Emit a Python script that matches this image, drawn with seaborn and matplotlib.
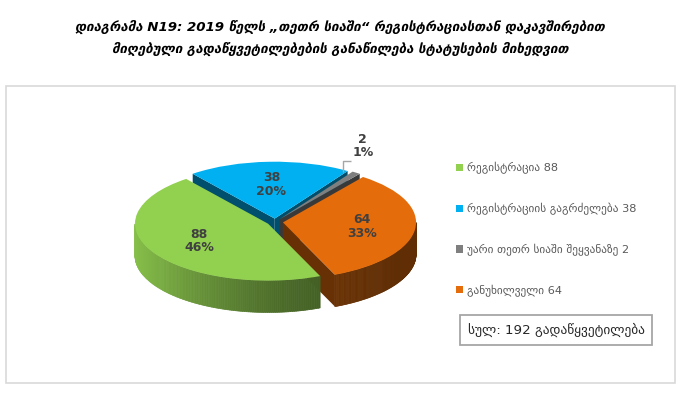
import numpy as np
import matplotlib
matplotlib.use('Agg')
import matplotlib.pyplot as plt
from matplotlib.patches import Polygon, Rectangle
from matplotlib.collections import PolyCollection
from matplotlib.colors import to_rgb
import seaborn as sns

# data
categories = ['რეგისტრაცია', 'რეგისტრაციის გაგრძელება',
              'უარი თეთრ სიაში შეყვანაზე', 'განუხილველი']
counts = [88, 38, 2, 64]
colors = ['#92d050', '#00b0f0', '#7f7f7f', '#e46c0a']
title_lines = ['დიაგრამა N19: 2019 წელს „თეთრ სიაში“ რეგისტრაციასთან დაკავშირებით',
               'მიღებული გადაწყვეტილებების განაწილება სტატუსების მიხედვით']
total_text = 'სულ: {} გადაწყვეტილება'

sns.set_theme(style='white')
plt.rcParams['font.family'] = ['DejaVu Sans']

W, H = 680, 394
fig = plt.figure(figsize=(W / 100, H / 100), dpi=100)
fig.patch.set_facecolor('white')


def px_box(x0, y0, x1, y1):
    # pixel box (origin top-left) -> figure fraction rect
    return [x0 / W, 1 - y1 / H, (x1 - x0) / W, (y1 - y0) / H]


# outer chart frame
fig.patches.append(Rectangle((6 / W, 1 - 383 / H), 669 / W, 297 / H,
                             transform=fig.transFigure, fill=False,
                             ec='#d9d9d9', lw=1.2))

fig.text(0.5, 1 - 38 / H, '\n'.join(title_lines), ha='center', va='center',
         fontsize=9.6, fontweight='bold', fontstyle='italic', linespacing=1.75,
         color='black')

# pie axes: squashed vertically to fake the 3D tilt
ax = fig.add_axes(px_box(62, 131, 488, 313))
wedges, _ = ax.pie(counts, colors=colors, startangle=-67, counterclock=False,
                   explode=[0.06] * len(counts),
                   wedgeprops=dict(linewidth=0))
ax.set_aspect('auto')
ax.set_xlim(-1.6, 1.6)
ax.set_ylim(-1.6, 1.6)
ax.axis('off')

depth = 0.56


def shade(c, f):
    return tuple(np.clip(np.array(to_rgb(c)) * f, 0, 1))


def side_factor(t):
    return 0.42 + 0.5 * ((1 - np.cos(t)) / 2) ** 2


# draw sides back to front
mid = [np.radians((w.theta1 + w.theta2) / 2) for w in wedges]
order = sorted(range(len(wedges)), key=lambda i: np.sin(mid[i]), reverse=True)
z = 1.0
for i in order:
    w = wedges[i]
    cx, cy = w.center
    t1, t2 = np.radians(w.theta1), np.radians(w.theta2)
    col = colors[i]
    # radial cut faces
    for t, vis in ((t1, np.cos(t1) > 0), (t2, np.cos(t2) < 0)):
        if vis:
            ex, ey = cx + np.cos(t), cy + np.sin(t)
            ax.add_patch(Polygon([(cx, cy), (ex, ey), (ex, ey - depth), (cx, cy - depth)],
                                 closed=True, fc=shade(col, 0.45), ec='none', zorder=z))
    # outer curved wall, front part only
    ts = np.linspace(t1, t2, 200)
    quads, qcols = [], []
    for a, b in zip(ts[:-1], ts[1:]):
        m = (a + b) / 2
        if np.sin(m) >= 0:
            continue
        xa, ya = cx + np.cos(a), cy + np.sin(a)
        xb, yb = cx + np.cos(b), cy + np.sin(b)
        quads.append([(xa, ya), (xb, yb), (xb, yb - depth), (xa, ya - depth)])
        qcols.append(shade(col, side_factor(m)))
    if quads:
        ax.add_collection(PolyCollection(quads, facecolors=qcols, edgecolors=qcols,
                                         linewidths=0.5, zorder=z + 0.1))
    z += 0.5

for w in wedges:
    w.set_zorder(10)

# data labels
total = sum(counts)
for i, w in enumerate(wedges):
    cx, cy = w.center
    pct = counts[i] / total * 100
    txt = f'{counts[i]}\n{pct:.0f}%'
    if pct < 5:
        ox, oy = cx + 1.0 * np.cos(mid[i]), cy + 1.0 * np.sin(mid[i])
        ax.plot([ox - 0.1, ox - 0.1, ox - 0.04], [oy + 0.02, oy + 0.2, oy + 0.2],
                color='#a6a6a6', lw=1, zorder=11, solid_capstyle='butt')
        ax.text(ox - 0.03, oy + 0.24, txt, ha='left', va='bottom', multialignment='center',
                fontsize=9, fontweight='bold', color='#404040', zorder=12,
                linespacing=1.05)
    else:
        r = 0.6
        ax.text(cx + r * np.cos(mid[i]), cy + r * np.sin(mid[i]), txt,
                ha='center', va='center', fontsize=9, fontweight='bold',
                color='#404040', zorder=12, linespacing=1.05)

leg = ax.legend(wedges, [f'{c} {v}' for c, v in zip(categories, counts)],
                loc='upper left', bbox_to_anchor=(456 / W, 1 - 162 / H),
                bbox_transform=fig.transFigure, frameon=False,
                handlelength=0.6, handleheight=0.6, handletextpad=0.4,
                labelspacing=2.55, fontsize=8.1, borderpad=0, borderaxespad=0)
for t in leg.get_texts():
    t.set_color('#595959')

fig.text(556 / W, 1 - 330 / H, total_text.format(total), ha='center', va='center',
         fontsize=9.6, color='#262626',
         bbox=dict(boxstyle='square,pad=0.6', fc='white', ec='#a6a6a6', lw=1.3))

fig.savefig('out.png', dpi=100)
